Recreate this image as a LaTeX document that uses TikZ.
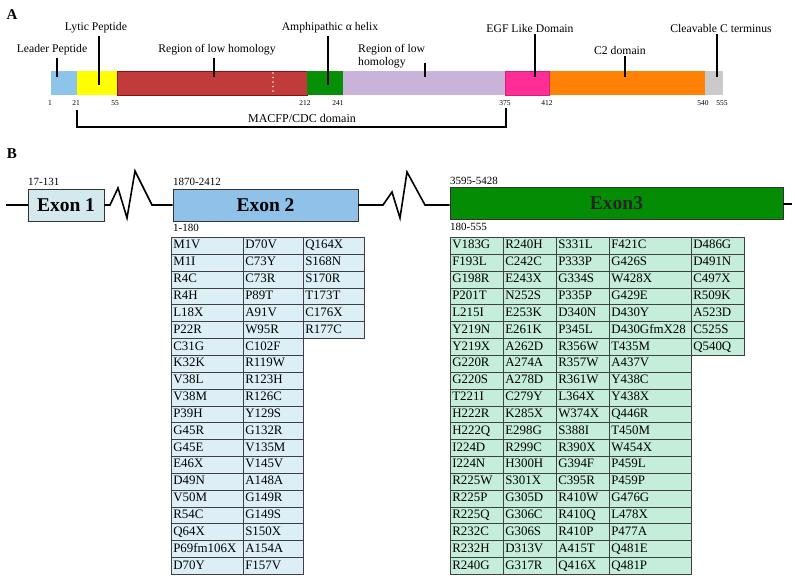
\documentclass[tikz,border=0pt]{standalone}
\usepackage{fontspec}
\setmainfont{Liberation Serif}
\definecolor{cLP}{HTML}{8DC4EA}
\definecolor{cLy}{HTML}{FFFF00}
\definecolor{cRed}{HTML}{C23B3B}
\definecolor{cRedB}{HTML}{8E0F12}
\definecolor{cGrn}{HTML}{078F07}
\definecolor{cLav}{HTML}{C9B3D8}
\definecolor{cPink}{HTML}{FF2D95}
\definecolor{cOr}{HTML}{FF8207}
\definecolor{cGray}{HTML}{CACACA}
\definecolor{cEx1}{HTML}{D4E9EE}
\definecolor{cEx2}{HTML}{8FC1E9}
\definecolor{cEx3}{HTML}{048C04}
\definecolor{cT2}{HTML}{DCEFF7}
\definecolor{cT3}{HTML}{C4EDDA}
\tikzset{
  lbl/.style={font=\fontsize{11.7}{13.5}\selectfont, inner sep=0pt},
  num/.style={font=\fontsize{7.5}{8}\selectfont, inner sep=0pt},
  tick/.style={line width=1.6pt},
  panel/.style={font=\fontsize{15}{16}\selectfont\bfseries, inner sep=0pt},
  exon/.style={draw=black!80, line width=0.9pt, minimum height=32pt, inner sep=0pt,
     font=\fontsize{19.5}{20}\selectfont\bfseries},
  posl/.style={font=\fontsize{11}{12}\selectfont, inner sep=0pt, anchor=west},
  gline/.style={line width=1.6pt, line join=miter},
  cell/.style={draw=black!75, line width=0.6pt, anchor=north west, inner xsep=2pt,
     inner ysep=0pt, minimum height=16.85pt, align=left,
     font=\fontsize{12.9}{14}\selectfont, text height=9pt, text depth=2.6pt},
}
\newcommand{\mutcol}[5]{%
  \foreach \t [count=\i] in {#5} {%
    \node[cell, fill=#4, text width=#3] (#1\i) at (#2, {237+(\i-1)*16.85}) {\t};}}
\begin{document}
\begin{tikzpicture}[x=1pt,y=-1pt]
\useasboundingbox[fill=white] (0,0) rectangle (795,581);

% ---------- Panel A ----------
\node[panel] (pA) at (12,15) {A};
\foreach \a/\b/\c in {51/77/cLP, 77/117/cLy, 343/505/cLav, 505/549/cPink, 549/705/cOr, 705/723/cGray}
  \fill[\c] (\a,71) rectangle (\b,95);
\fill[cRed, draw=cRedB, line width=0.6pt] (117,71) rectangle (307,95);
\fill[cGrn] (307,71) rectangle (343,95);
\draw[cPink!80!black, line width=0.5pt] (505,71) rectangle (549,95);
\draw[white!85!cRed, line width=1.6pt, line cap=round, dash pattern=on 0pt off 4.5pt] (273,73) -- (273,94);

\node[lbl] (lLP) at (52,50) {Leader Peptide};
\node[lbl] (lLy) at (96,28) {Lytic Peptide};
\node[lbl] (lR1) at (217,50) {Region of low homology};
\node[lbl] (lAm) at (330,28) {Amphipathic α helix};
\node[lbl, anchor=north west, align=left] (lR2) at (358,44) {Region of low\\homology};
\node[lbl] (lEG) at (530,28) {EGF Like Domain};
\node[lbl] (lC2) at (620,50) {C2 domain};
\node[lbl] (lCl) at (721,28) {Cleavable C terminus};

\coordinate (tLP) at (57,77);
\coordinate (tLy) at (99,85);
\coordinate (tR1) at (214,77);
\coordinate (tAm) at (328,85);
\coordinate (tR2) at (425,77);
\coordinate (tEG) at (535,77);
\coordinate (tC2) at (625,77);
\coordinate (tCl) at (717,77);
\draw[tick] ([yshift=-2pt]lLP.south -| tLP) -- (tLP);
\draw[tick] ([yshift=-2pt]lLy.south -| tLy) -- (tLy);
\draw[tick] ([yshift=-2pt]lR1.south -| tR1) -- (tR1);
\draw[tick] ([yshift=-2pt]lAm.south -| tAm) -- (tAm);
\draw[tick] (425,63) coordinate (sR2) -- (tR2);
\draw[tick] ([yshift=-2pt]lEG.south -| tEG) -- (tEG);
\draw[tick] ([yshift=-2pt]lC2.south -| tC2) -- (tC2);
\draw[tick] ([yshift=-2pt]lCl.south -| tCl) -- (tCl);

\foreach \x/\n in {50/1, 76/21, 115/55, 305/212, 338/241, 505/375, 547/412, 703/540, 722/555}
  \node[num] at (\x,103) {\n};

\coordinate (b1) at (77,110);
\coordinate (b2) at (77,127);
\coordinate (b3) at (506,127);
\coordinate (b4) at (506,108);
\draw[line width=1.3pt] (b1) -- (b2) -- (b3) -- (b4);
\node[font=\fontsize{12}{13}\selectfont, inner sep=0pt] (mac) at (302,118) {MACFP/CDC domain};

% ---------- Panel B ----------
\node[panel] (pB) at (12,154) {B};
\node[exon, minimum width=76pt, fill=cEx1, text=black] (ex1) at (66,205) {Exon 1};
\node[exon, minimum width=185pt, fill=cEx2] (ex2) at (265.5,205) {Exon 2};
\node[exon, minimum width=333pt, fill=cEx3, text=black!85] (ex3) at (616.5,203) {Exon3};

\coordinate (g0) at (6,205);
\coordinate (g9) at (792,204);
\draw[gline] (g0) -- (ex1.west);
\draw[gline] (ex1.east) -- (110,205) -- (118,188) -- (127,218) -- (135,171) -- (152,205) -- (ex2.west);
\draw[gline] (ex2.east) -- (383,205) -- (392,192) -- (400,218) -- (407,172) -- (425,205) -- (ex3.west |- 0,205);
\draw[gline] (ex3.east |- 0,204) -- (g9);

\node[posl] (p1) at (28,182) {17-131};
\node[posl] (p2) at (173,182) {1870-2412};
\node[posl] (p3) at (173,228) {1-180};
\node[posl] (p4) at (450,181) {3595-5428};
\node[posl] (p5) at (450,227) {180-555};

% Exon 2 table
\mutcol{ta}{171}{68pt}{cT2}{M1V,M1I,R4C,R4H,L18X,P22R,C31G,K32K,V38L,V38M,P39H,G45R,G45E,E46X,D49N,V50M,R54C,Q64X,P69fm106X,D70Y}
\mutcol{tb}{243}{56pt}{cT2}{D70V,C73Y,C73R,P89T,A91V,W95R,C102F,R119W,R123H,R126C,Y129S,G132R,V135M,V145V,A148A,G149R,G149S,S150X,A154A,F157V}
\mutcol{tc}{303}{57pt}{cT2}{Q164X,S168N,S170R,T173T,C176X,R177C}

% Exon 3 table
\mutcol{ua}{450}{49pt}{cT3}{V183G,F193L,G198R,P201T,L215I,Y219N,Y219X,G220R,G220S,T221I,H222R,H222Q,I224D,I224N,R225W,R225P,R225Q,R232C,R232H,R240G}
\mutcol{ub}{503}{49pt}{cT3}{R240H,C242C,E243X,N252S,E253K,E261K,A262D,A274A,A278D,C279Y,K285X,E298G,R299C,H300H,S301X,G305D,G306C,G306S,D313V,G317R}
\mutcol{uc}{556}{49pt}{cT3}{S331L,P333P,G334S,P335P,D340N,P345L,R356W,R357W,R361W,L364X,W374X,S388I,R390X,G394F,C395R,R410W,R410Q,R410P,A415T,Q416X}
\mutcol{ud}{609}{78pt}{cT3}{F421C,G426S,W428X,G429E,D430Y,D430GfmX28,T435M,A437V,Y438C,Y438X,Q446R,T450M,W454X,P459L,P459P,G476G,L478X,P477A,Q481E,Q481P}
\mutcol{ue}{691}{49pt}{cT3}{D486G,D491N,C497X,R509K,A523D,C525S,Q540Q}
\end{tikzpicture}
\end{document}
